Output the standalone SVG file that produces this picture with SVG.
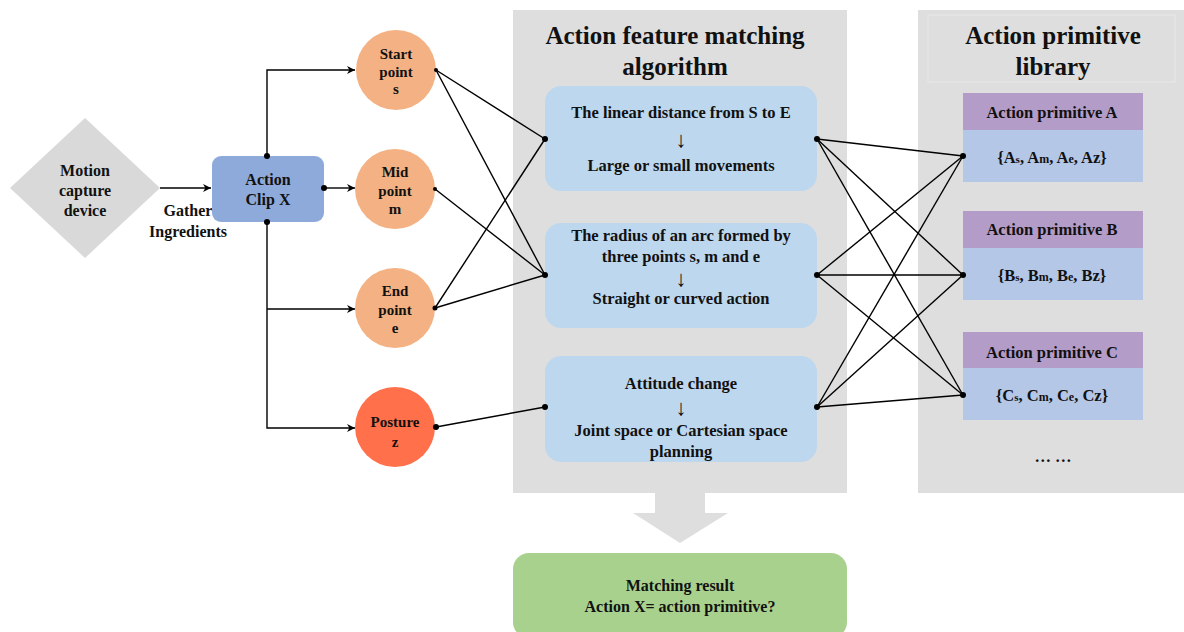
<svg xmlns="http://www.w3.org/2000/svg" width="1184" height="632" viewBox="0 0 1184 632">
<defs>
<marker id="arr" viewBox="0 0 10 10" refX="10" refY="5" markerWidth="8" markerHeight="8" orient="auto" markerUnits="userSpaceOnUse">
<path d="M0,0 L10,5 L0,10 L3,5 z" fill="#000"/>
</marker>
<style>
text{font-family:"Liberation Serif","Times New Roman",serif;font-weight:bold;fill:#111;text-anchor:middle}
.t{font-size:16px}
.f{font-size:16.5px}
.p{font-size:16.5px}
.s{font-size:15px}
.h{font-size:25px}
.ar{font-size:22px;font-weight:normal}
.c{stroke:#000;stroke-width:1.4;fill:none}
.d{fill:#000}
.panel{fill:#dedede}
.feat{fill:#bdd7ee}
.ph{fill:#b49cc8}
.pb{fill:#b4c7e7}
.orange{fill:#f4b183}
</style>
</defs>
<rect width="1184" height="632" fill="#fff"/>

<g id="panel-algorithm">
<rect class="panel" x="513" y="10" width="334" height="483"/>
<text class="h" x="675" y="44">Action feature matching</text>
<text class="h" x="675" y="75">algorithm</text>
</g>
<g id="panel-library">
<rect class="panel" x="918" y="10" width="266" height="483"/>
<rect x="928" y="15" width="247" height="67" fill="none" stroke="#e8e8e8" stroke-width="1"/>
<text class="h" x="1053" y="44">Action primitive</text>
<text class="h" x="1053" y="75">library</text>
<text class="p" x="1053" y="462">… …</text>
</g>

<g id="connectors">
<line class="c" x1="160" y1="188" x2="211" y2="188" marker-end="url(#arr)"/>
<polyline class="c" points="267,156 267,70 355,70" marker-end="url(#arr)"/>
<line class="c" x1="324" y1="188" x2="355" y2="188" marker-end="url(#arr)"/>
<polyline class="c" points="267,222 267,428 355,428" marker-end="url(#arr)"/>
<line class="c" x1="267" y1="309" x2="355" y2="309" marker-end="url(#arr)"/>
<line class="c" x1="436" y1="70" x2="545" y2="139"/>
<line class="c" x1="436" y1="70" x2="545" y2="275"/>
<line class="c" x1="435" y1="189" x2="545" y2="275"/>
<line class="c" x1="435" y1="308" x2="545" y2="139"/>
<line class="c" x1="435" y1="308" x2="545" y2="275"/>
<line class="c" x1="436" y1="427" x2="545" y2="407"/>
<line class="c" x1="817" y1="139" x2="963" y2="156"/>
<line class="c" x1="817" y1="139" x2="963" y2="275"/>
<line class="c" x1="817" y1="139" x2="963" y2="395"/>
<line class="c" x1="817" y1="275" x2="963" y2="156"/>
<line class="c" x1="817" y1="275" x2="963" y2="275"/>
<line class="c" x1="817" y1="275" x2="963" y2="395"/>
<line class="c" x1="817" y1="407" x2="963" y2="156"/>
<line class="c" x1="817" y1="407" x2="963" y2="275"/>
<line class="c" x1="817" y1="407" x2="963" y2="395"/>
<polygon id="big-arrow" points="655,493 705,493 705,513 728,513 680,543 633,513 655,513" fill="#dedede"/>
</g>

<g id="motion-capture">
<polygon points="85,118 160,188 85,258 10,188" fill="#d9d9d9"/>
<text class="t" x="85" y="176">Motion</text>
<text class="t" x="85" y="196">capture</text>
<text class="t" x="85" y="216">device</text>
</g>
<g id="gather-label">
<text class="t" x="188" y="216">Gather</text>
<text class="t" x="188" y="237">Ingredients</text>
</g>
<g id="action-clip">
<rect x="212" y="156" width="112" height="66" rx="9" fill="#8eaadb"/>
<text class="t" x="268" y="185">Action</text>
<text class="t" x="268" y="205">Clip X</text>
</g>
<g id="start-point">
<circle class="orange" cx="396" cy="70" r="40"/>
<text class="s" x="396" y="59">Start</text>
<text class="s" x="396" y="77">point</text>
<text class="s" x="396" y="94">s</text>
</g>
<g id="mid-point">
<circle class="orange" cx="395" cy="189" r="40"/>
<text class="s" x="395" y="177">Mid</text>
<text class="s" x="395" y="196">point</text>
<text class="s" x="395" y="214">m</text>
</g>
<g id="end-point">
<circle class="orange" cx="395" cy="308" r="40"/>
<text class="s" x="395" y="296">End</text>
<text class="s" x="395" y="315">point</text>
<text class="s" x="395" y="333">e</text>
</g>
<g id="posture">
<circle cx="395" cy="427" r="40" fill="#ff704b"/>
<text class="s" x="395" y="427">Posture</text>
<text class="s" x="395" y="447">z</text>
</g>

<g id="feature-distance">
<rect class="feat" x="545" y="86" width="272" height="105" rx="16"/>
<text class="f" x="681" y="118">The linear distance from S to E</text>
<text class="ar" x="681" y="147">↓</text>
<text class="f" x="681" y="171">Large or small movements</text>
</g>
<g id="feature-radius">
<rect class="feat" x="545" y="223" width="272" height="105" rx="16"/>
<text class="f" x="681" y="241">The radius of an arc formed by</text>
<text class="f" x="681" y="262">three points s, m and e</text>
<text class="ar" x="681" y="286">↓</text>
<text class="f" x="681" y="304">Straight or curved action</text>
</g>
<g id="feature-attitude">
<rect class="feat" x="545" y="356" width="272" height="106" rx="16"/>
<text class="f" x="681" y="389">Attitude change</text>
<text class="ar" x="681" y="415">↓</text>
<text class="f" x="681" y="436">Joint space or Cartesian space</text>
<text class="f" x="681" y="457">planning</text>
</g>

<g id="primitive-a">
<rect class="ph" x="963" y="93" width="180" height="37"/>
<rect class="pb" x="963" y="130" width="180" height="52"/>
<text class="p" x="1052" y="118">Action primitive A</text>
<text class="p" x="1052" y="163">{A<tspan font-size="11">s</tspan>, A<tspan font-size="12">m</tspan>, A<tspan font-size="12">e</tspan>, Az}</text>
</g>
<g id="primitive-b">
<rect class="ph" x="963" y="211" width="180" height="37"/>
<rect class="pb" x="963" y="248" width="180" height="52"/>
<text class="p" x="1052" y="235">Action primitive B</text>
<text class="p" x="1052" y="281">{B<tspan font-size="11">s</tspan>, B<tspan font-size="12">m</tspan>, B<tspan font-size="12">e</tspan>, Bz}</text>
</g>
<g id="primitive-c">
<rect class="ph" x="963" y="332" width="180" height="36"/>
<rect class="pb" x="963" y="368" width="180" height="52"/>
<text class="p" x="1052" y="358">Action primitive C</text>
<text class="p" x="1052" y="401">{C<tspan font-size="11">s</tspan>, C<tspan font-size="12">m</tspan>, C<tspan font-size="12">e</tspan>, Cz}</text>
</g>

<g id="matching-result">
<rect x="513" y="553" width="334" height="85" rx="16" fill="#a9d18e"/>
<text class="t" x="680" y="591">Matching result</text>
<text class="t" x="680" y="612">Action X= action primitive?</text>
</g>

<g id="dots">
<circle class="d" cx="267" cy="156" r="3"/>
<circle class="d" cx="324" cy="188" r="3"/>
<circle class="d" cx="267" cy="222" r="3"/>
<circle class="d" cx="545" cy="139" r="3"/>
<circle class="d" cx="545" cy="275" r="3"/>
<circle class="d" cx="545" cy="407" r="3"/>
<circle class="d" cx="817" cy="139" r="3"/>
<circle class="d" cx="817" cy="275" r="3"/>
<circle class="d" cx="817" cy="407" r="3"/>
<circle class="d" cx="963" cy="156" r="3"/>
<circle class="d" cx="963" cy="275" r="3"/>
<circle class="d" cx="963" cy="395" r="3"/>
<circle class="d" cx="436" cy="70" r="2"/>
<circle class="d" cx="435" cy="189" r="2"/>
<circle class="d" cx="435" cy="308" r="2.5"/>
<circle class="d" cx="436" cy="427" r="3"/>
</g>
</svg>
